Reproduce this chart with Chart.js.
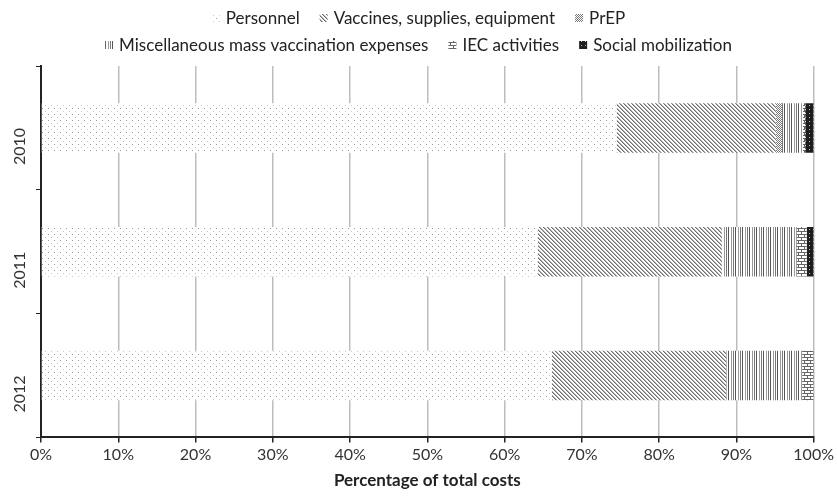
<!DOCTYPE html>
<html>
<head>
<meta charset="utf-8">
<script src="https://cdn.jsdelivr.net/npm/chart.js@4.4.1/dist/chart.umd.min.js"></script>
<style>
  html, body { margin: 0; padding: 0; background: #fff; }
  #wrap { width: 837px; height: 498px; position: relative; }
</style>
</head>
<body>
<div id="wrap"><canvas id="chart"></canvas></div>
<script>
// Data (percent of total costs)
const years = ['2010', '2011', '2012'];
const personnel = [74.5, 64.3, 66.1];
const vaccines = [20.6, 23.8, 22.6];
const prep = [0.8, 0, 0];
const miscMass = [2.7, 9.7, 9.8];
const iec = [0.3, 1.3, 1.5];
const socialMob = [1.1, 0.9, 0];
const xTicks = [0, 10, 20, 30, 40, 50, 60, 70, 80, 90, 100];

const FONT = 'Lato, "Open Sans", sans-serif';

// Small tiles for the black & white fill patterns
function makePattern(w, h, bg, draw) {
    const c = document.createElement('canvas');
    c.width = w;
    c.height = h;
    const g = c.getContext('2d');
    g.fillStyle = bg;
    g.fillRect(0, 0, w, h);
    draw(g);
    return g.createPattern(c, 'repeat');
}

const patterns = {
    dots: makePattern(6, 6, '#ffffff', g => {
        g.fillStyle = '#9a9a9a';
        g.fillRect(0, 0, 1, 1);
        g.fillStyle = '#c8c8c8';
        g.fillRect(3, 3, 1, 1);
    }),
    diag: makePattern(4, 4, '#ffffff', g => {
        g.fillStyle = '#6e6e6e';
        for (let i = 0; i < 4; i++) g.fillRect(i, i, 1, 1);
        g.fillStyle = '#b4b4b4';
        for (let i = 0; i < 4; i++) g.fillRect((i + 1) % 4, i, 1, 1);
    }),
    zigzag: makePattern(4, 6, '#ffffff', g => {
        g.fillStyle = '#777777';
        [[0, 0], [1, 1], [2, 2], [1, 3], [0, 4], [3, 5], [2, 0], [3, 1], [0, 2], [3, 3], [2, 4], [1, 5]]
            .forEach(p => g.fillRect(p[0], p[1], 1, 1));
    }),
    vert: makePattern(7, 4, '#ffffff', g => {
        g.fillStyle = '#555555';
        g.fillRect(0, 0, 1, 4);
        g.fillStyle = '#999999';
        g.fillRect(3, 0, 1, 4);
        g.fillStyle = '#777777';
        g.fillRect(5, 0, 1, 4);
    }),
    brick: makePattern(6, 6, '#ffffff', g => {
        g.fillStyle = '#666666';
        g.fillRect(0, 0, 6, 1);
        g.fillRect(0, 3, 6, 1);
        g.fillRect(0, 1, 1, 2);
        g.fillRect(3, 4, 1, 2);
    }),
    solidDots: makePattern(4, 4, '#1e1e1e', g => {
        g.fillStyle = '#bdbdbd';
        g.fillRect(1, 1, 1, 1);
    })
};

const datasets = [
    { label: 'Personnel', data: personnel, backgroundColor: patterns.dots },
    { label: 'Vaccines, supplies, equipment', data: vaccines, backgroundColor: patterns.diag },
    { label: 'PrEP', data: prep, backgroundColor: patterns.zigzag },
    { label: 'Miscellaneous mass vaccination expenses', data: miscMass, backgroundColor: patterns.vert },
    { label: 'IEC activities', data: iec, backgroundColor: patterns.brick },
    { label: 'Social mobilization', data: socialMob, backgroundColor: patterns.solidDots }
];

// Two-row legend drawn by hand, like the reference
const legendRows = [[0, 1, 2], [3, 4, 5]];
const twoRowLegend = {
    id: 'twoRowLegend',
    afterDraw(chart) {
        const ctx = chart.ctx;
        const box = 8, gap = 6, itemGap = 20;
        ctx.save();
        ctx.font = '17px ' + FONT;
        ctx.textBaseline = 'middle';
        legendRows.forEach((row, r) => {
            const y = 18 + r * 27;
            const widths = row.map(i => box + gap + ctx.measureText(datasets[i].label).width);
            const total = widths.reduce((a, b) => a + b, 0) + itemGap * (row.length - 1);
            let x = (chart.width - total) / 2;
            row.forEach((i, k) => {
                ctx.fillStyle = datasets[i].backgroundColor;
                ctx.fillRect(x, y - box / 2, box, box);
                ctx.fillStyle = '#222';
                ctx.fillText(datasets[i].label, x + box + gap, y + 1);
                x += widths[k] + itemGap;
            });
        });
        ctx.restore();
    }
};

new Chart(document.getElementById('chart'), {
    type: 'bar',
    data: {
        labels: years,
        datasets: datasets.map(d => ({ ...d, borderWidth: 0 }))
    },
    options: {
        indexAxis: 'y',
        responsive: true,
        maintainAspectRatio: false,
        animation: false,
        layout: { padding: { top: 66, right: 22, left: 0, bottom: 7 } },
        datasets: { bar: { categoryPercentage: 1, barPercentage: 0.4 } },
        plugins: {
            legend: { display: false },
            tooltip: { enabled: false }
        },
        scales: {
            x: {
                stacked: true,
                min: 0,
                max: 100,
                afterBuildTicks: axis => { axis.ticks = xTicks.map(v => ({ value: v })); },
                border: { color: '#222', width: 2 },
                grid: { color: '#bdbdbd', lineWidth: 1.5, tickLength: 5, tickColor: '#222' },
                ticks: {
                    color: '#333',
                    font: { family: FONT, size: 16 },
                    padding: 3,
                    maxRotation: 0,
                    callback: v => v + '%'
                },
                title: {
                    display: true,
                    text: 'Percentage of total costs',
                    color: '#222',
                    font: { family: FONT, size: 17, weight: 'bold' },
                    padding: { top: 3, bottom: 0 }
                }
            },
            y: {
                stacked: true,
                afterFit: axis => { axis.width = 41; },
                border: { color: '#222', width: 2 },
                grid: { offset: true, drawOnChartArea: false, tickLength: 5, tickColor: '#222' },
                ticks: {
                    color: '#333',
                    font: { family: FONT, size: 16 },
                    minRotation: 90,
                    maxRotation: 90,
                    padding: 16
                }
            }
        }
    },
    plugins: [twoRowLegend]
});
</script>
</body>
</html>
